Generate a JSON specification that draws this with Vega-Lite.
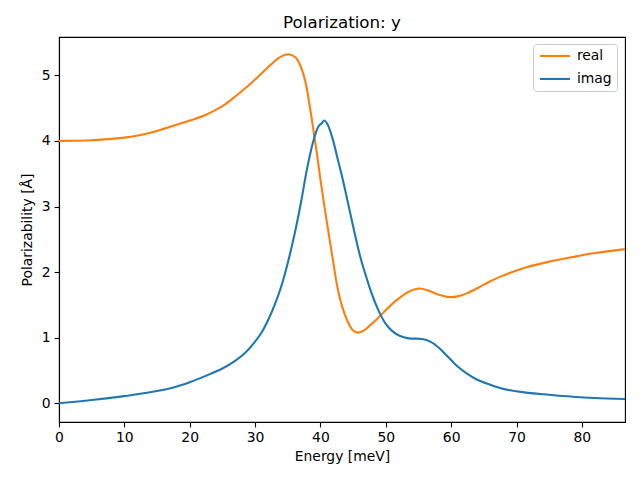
{
  "$schema": "https://vega.github.io/schema/vega-lite/v6.json",
  "width": 566,
  "height": 385,
  "autosize": "none",
  "padding": {"left": 59, "top": 37, "right": 15, "bottom": 58},
  "background": "white",
  "title": {"text": "Polarization: y", "fontSize": 16.7, "font": "DejaVu Sans", "fontWeight": "normal", "color": "black", "offset": 5, "anchor": "middle"},
  "datasets": {
    "pol": [
      {"series": "real", "energy": 0, "value": 4.0},
      {"series": "real", "energy": 5, "value": 4.01},
      {"series": "real", "energy": 10, "value": 4.05},
      {"series": "real", "energy": 12.5, "value": 4.09},
      {"series": "real", "energy": 15, "value": 4.15},
      {"series": "real", "energy": 17.5, "value": 4.23},
      {"series": "real", "energy": 20, "value": 4.31},
      {"series": "real", "energy": 22.5, "value": 4.4},
      {"series": "real", "energy": 25, "value": 4.53},
      {"series": "real", "energy": 26.5, "value": 4.64},
      {"series": "real", "energy": 28, "value": 4.76},
      {"series": "real", "energy": 29.5, "value": 4.89},
      {"series": "real", "energy": 31, "value": 5.03},
      {"series": "real", "energy": 32.5, "value": 5.17},
      {"series": "real", "energy": 33.7, "value": 5.27},
      {"series": "real", "energy": 35.1, "value": 5.32},
      {"series": "real", "energy": 36.2, "value": 5.27},
      {"series": "real", "energy": 37, "value": 5.13},
      {"series": "real", "energy": 37.7, "value": 4.9},
      {"series": "real", "energy": 38.3, "value": 4.57},
      {"series": "real", "energy": 39, "value": 4.12},
      {"series": "real", "energy": 39.5, "value": 3.78},
      {"series": "real", "energy": 40, "value": 3.41},
      {"series": "real", "energy": 41, "value": 2.75},
      {"series": "real", "energy": 41.9, "value": 2.19},
      {"series": "real", "energy": 42.6, "value": 1.77},
      {"series": "real", "energy": 43.4, "value": 1.45},
      {"series": "real", "energy": 44.2, "value": 1.24},
      {"series": "real", "energy": 45, "value": 1.11},
      {"series": "real", "energy": 45.7, "value": 1.077},
      {"series": "real", "energy": 46.5, "value": 1.1},
      {"series": "real", "energy": 47.5, "value": 1.18},
      {"series": "real", "energy": 48.5, "value": 1.27},
      {"series": "real", "energy": 49.5, "value": 1.37},
      {"series": "real", "energy": 50.5, "value": 1.47},
      {"series": "real", "energy": 52, "value": 1.6},
      {"series": "real", "energy": 53.5, "value": 1.7},
      {"series": "real", "energy": 55.1, "value": 1.75},
      {"series": "real", "energy": 56.5, "value": 1.72},
      {"series": "real", "energy": 58, "value": 1.66},
      {"series": "real", "energy": 59.7, "value": 1.62},
      {"series": "real", "energy": 61, "value": 1.63},
      {"series": "real", "energy": 62.5, "value": 1.68},
      {"series": "real", "energy": 64.3, "value": 1.77},
      {"series": "real", "energy": 66, "value": 1.86},
      {"series": "real", "energy": 68, "value": 1.95},
      {"series": "real", "energy": 71.4, "value": 2.07},
      {"series": "real", "energy": 75, "value": 2.16},
      {"series": "real", "energy": 78.6, "value": 2.23},
      {"series": "real", "energy": 82, "value": 2.29},
      {"series": "real", "energy": 86.6, "value": 2.35},
      {"series": "imag", "energy": 0, "value": 0.0},
      {"series": "imag", "energy": 5, "value": 0.05},
      {"series": "imag", "energy": 10, "value": 0.11},
      {"series": "imag", "energy": 13.5, "value": 0.16},
      {"series": "imag", "energy": 17.5, "value": 0.24},
      {"series": "imag", "energy": 20, "value": 0.32},
      {"series": "imag", "energy": 22.5, "value": 0.42},
      {"series": "imag", "energy": 25, "value": 0.53},
      {"series": "imag", "energy": 27, "value": 0.65},
      {"series": "imag", "energy": 28.5, "value": 0.77},
      {"series": "imag", "energy": 30, "value": 0.94},
      {"series": "imag", "energy": 31, "value": 1.08},
      {"series": "imag", "energy": 32, "value": 1.27},
      {"series": "imag", "energy": 33, "value": 1.5},
      {"series": "imag", "energy": 34, "value": 1.78},
      {"series": "imag", "energy": 35, "value": 2.14},
      {"series": "imag", "energy": 36, "value": 2.56},
      {"series": "imag", "energy": 37, "value": 3.05},
      {"series": "imag", "energy": 38, "value": 3.6},
      {"series": "imag", "energy": 39, "value": 4.03},
      {"series": "imag", "energy": 39.7, "value": 4.22},
      {"series": "imag", "energy": 40.2, "value": 4.27},
      {"series": "imag", "energy": 40.6, "value": 4.31},
      {"series": "imag", "energy": 41.1, "value": 4.25},
      {"series": "imag", "energy": 41.9, "value": 4.02},
      {"series": "imag", "energy": 42.6, "value": 3.74},
      {"series": "imag", "energy": 43.4, "value": 3.42},
      {"series": "imag", "energy": 44.2, "value": 3.06},
      {"series": "imag", "energy": 45, "value": 2.7},
      {"series": "imag", "energy": 46, "value": 2.27},
      {"series": "imag", "energy": 47, "value": 1.93},
      {"series": "imag", "energy": 48, "value": 1.63},
      {"series": "imag", "energy": 49, "value": 1.39},
      {"series": "imag", "energy": 50, "value": 1.21},
      {"series": "imag", "energy": 51, "value": 1.1},
      {"series": "imag", "energy": 52.1, "value": 1.03},
      {"series": "imag", "energy": 53.5, "value": 0.99},
      {"series": "imag", "energy": 55.6, "value": 0.98},
      {"series": "imag", "energy": 56.8, "value": 0.94},
      {"series": "imag", "energy": 58.2, "value": 0.84},
      {"series": "imag", "energy": 59.5, "value": 0.71},
      {"series": "imag", "energy": 61, "value": 0.56},
      {"series": "imag", "energy": 62.3, "value": 0.46},
      {"series": "imag", "energy": 64, "value": 0.36},
      {"series": "imag", "energy": 65.8, "value": 0.29},
      {"series": "imag", "energy": 68, "value": 0.22},
      {"series": "imag", "energy": 70.9, "value": 0.17},
      {"series": "imag", "energy": 75, "value": 0.13},
      {"series": "imag", "energy": 78.6, "value": 0.1},
      {"series": "imag", "energy": 82, "value": 0.08},
      {"series": "imag", "energy": 86.6, "value": 0.065}
    ]
  },
  "data": {"name": "pol"},
  "mark": {"type": "line", "interpolate": "catmull-rom", "strokeWidth": 2.1, "clip": true},
  "encoding": {
    "x": {
      "field": "energy", "type": "quantitative",
      "scale": {"domain": [0, 86.6], "nice": false, "zero": false},
      "axis": {"title": "Energy [meV]", "values": [0, 10, 20, 30, 40, 50, 60, 70, 80], "format": "d", "labelFlush": false, "titlePadding": 5}
    },
    "y": {
      "field": "value", "type": "quantitative",
      "scale": {"domain": [-0.285, 5.584], "nice": false, "zero": false},
      "axis": {"title": "Polarizability [Å]", "values": [0, 1, 2, 3, 4, 5], "format": "d", "titlePadding": 7}
    },
    "color": {
      "field": "series", "type": "nominal",
      "scale": {"domain": ["real", "imag"], "range": ["#ff7f0e", "#1f77b4"]},
      "legend": {
        "title": null, "orient": "none", "legendX": 474, "legendY": 7,
        "symbolType": "M-3,0H3", "symbolSize": 100, "symbolStrokeWidth": 2.1, "symbolOffset": 10,
        "labelFontSize": 13.9, "labelFont": "DejaVu Sans", "labelColor": "black",
        "labelOffset": 15, "rowPadding": 8,
        "padding": 5, "fillColor": "white", "strokeColor": "#cccccc", "cornerRadius": 3
      }
    },
    "order": {"field": "series", "sort": "descending"}
  },
  "config": {
    "font": "DejaVu Sans",
    "view": {"stroke": "black", "strokeWidth": 1.1},
    "axis": {
      "grid": false,
      "domainColor": "black", "domainWidth": 1.1,
      "tickColor": "black", "tickWidth": 1.1, "tickSize": 4.9,
      "labelFont": "DejaVu Sans", "labelFontSize": 13.9, "labelColor": "black", "labelPadding": 4,
      "titleFont": "DejaVu Sans", "titleFontSize": 13.9, "titleFontWeight": "normal", "titleColor": "black"
    }
  }
}
